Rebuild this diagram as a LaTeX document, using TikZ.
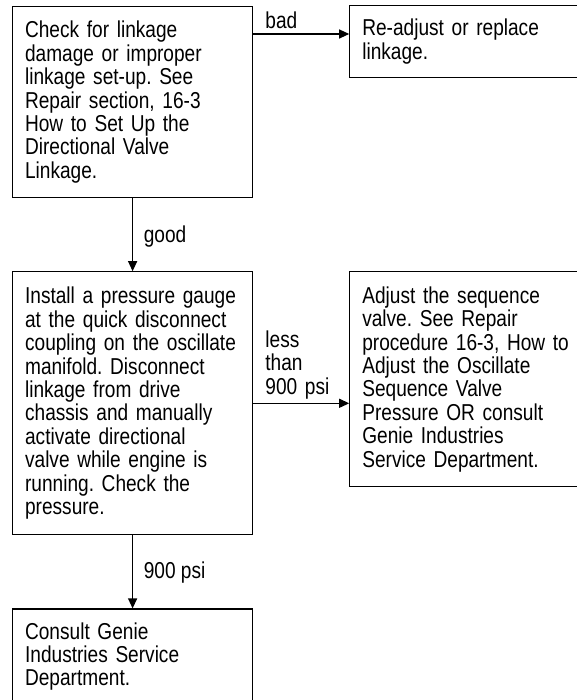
\documentclass[tikz,border=0pt]{standalone}
\usepackage{fontspec}
\setmainfont{Liberation Sans}[FakeStretch=0.83]
\usepackage{xcolor}
\usepackage{tikz}
\usetikzlibrary{positioning,arrows.meta}
\newcommand{\boxfont}{\fontsize{23}{23.4}\selectfont\frenchspacing\hyphenpenalty=10000\relax}

\begin{document}
\begin{tikzpicture}[x=1pt, y=-1pt, node distance=73pt, >={Triangle[length=10pt,width=9pt]},
    box/.style={rectangle, draw, line width=1.2pt, minimum width=240pt, inner xsep=12.5pt, inner ysep=0pt, text width=215pt, align=left, font=\boxfont},
    lbl/.style={inner sep=0pt, align=left, font=\boxfont}]
    \useasboundingbox (0,0) rectangle (577,700);
    \clip (0,0) rectangle (577,700);

    \node (check) [box, anchor=north west, minimum height=191pt] at (12,6) {Check for linkage\\damage or improper\\linkage set-up. See\\Repair section, 16-3\\How to Set Up the\\Directional Valve\\Linkage.};
    \node (readjust) [box, right=96pt of check.north east, anchor=north west, yshift=1pt, minimum height=72pt] {Re-adjust or replace\\linkage.};
    \node (install) [box, below=of check, minimum height=263pt] {Install a pressure gauge\\at the quick disconnect\\coupling on the oscillate\\manifold. Disconnect\\linkage from drive\\chassis and manually\\activate directional\\valve while engine is\\running. Check the\\pressure.};
    \node (adjust) [box, right=96pt of install.north east, anchor=north west, minimum height=215pt] {Adjust the sequence\\valve. See Repair\\procedure 16-3, How to\\Adjust the Oscillate\\Sequence Valve\\Pressure OR consult\\Genie Industries\\Service Department.};
    \node (consult) [box, below=of install, minimum height=95pt] {Consult Genie\\Industries Service\\Department.};

    \coordinate (badstart) at ([yshift=-28pt]check.north east);
    \draw[->, line width=1.2pt] (badstart) -- (badstart -| readjust.west);
    \draw[->, line width=1.2pt] (check) -- (install);
    \draw[->, line width=1.2pt] (install.east) -- (install.east -| adjust.west);
    \draw[->, line width=1.2pt] (install) -- (consult);

    \node (badlbl) [lbl, anchor=base west] at ([xshift=12pt,yshift=5pt]badstart) {bad};
    \node (goodlbl) [lbl, anchor=base west] at ([xshift=11pt,yshift=-44pt]check.south) {good};
    \node (lesslbl) [lbl, text width=80pt, anchor=base west] at ([xshift=12pt,yshift=56pt]install.east) {less\\than\\900 psi};
    \node (psilbl) [lbl, anchor=base west] at ([xshift=11pt,yshift=-43pt]install.south) {900 psi};
\end{tikzpicture}
\end{document}
